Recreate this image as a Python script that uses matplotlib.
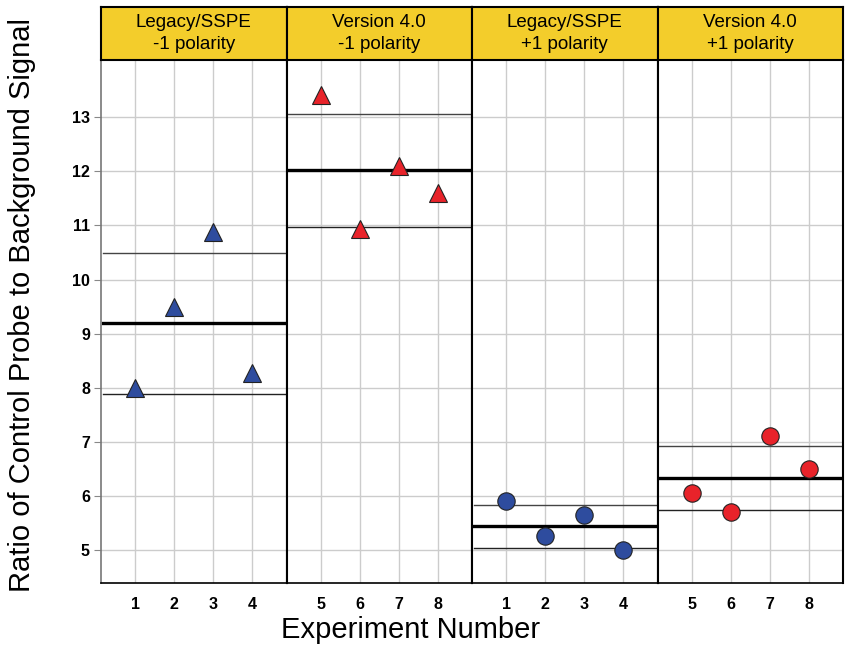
import matplotlib
matplotlib.use("Agg")
import matplotlib.pyplot as plt

plt.rcParams['font.family'] = ['Liberation Sans', 'DejaVu Sans']

# panel titles
titles = ["Legacy/SSPE\n-1 polarity", "Version 4.0\n-1 polarity",
          "Legacy/SSPE\n+1 polarity", "Version 4.0\n+1 polarity"]
# experiment numbers per panel
experiments = [[1, 2, 3, 4], [5, 6, 7, 8], [1, 2, 3, 4], [5, 6, 7, 8]]
# ratio values per panel
ratios = [[8.0, 9.5, 10.88, 8.28],
          [13.42, 10.93, 12.1, 11.6],
          [5.9, 5.25, 5.65, 5.0],
          [6.05, 5.7, 7.1, 6.5]]
# mean and upper / lower bounds per panel
means = [9.2, 12.03, 5.44, 6.33]
uppers = [10.5, 13.07, 5.84, 6.93]
lowers = [7.89, 10.98, 5.04, 5.74]

colors = ["#2E4C9E", "#E8232A", "#2E4C9E", "#E8232A"]
markers = ["^", "^", "o", "o"]
msizes = [13, 13, 12.5, 12.5]

W, H = 846, 647
fig = plt.figure(figsize=(W / 100, H / 100), dpi=100)

left, right = 101 / W, 843 / W
bottom, top = 1 - 583 / H, 1 - 60 / H
head_top = 1 - 7 / H
pw = (right - left) / 4

for i in range(4):
    ax = fig.add_axes([left + i * pw, bottom, pw, top - bottom])
    pos = list(range(1, 5))
    ax.set_xlim(0.13, 4.87)
    ax.set_ylim(4.39, 14.06)
    ax.set_xticks(pos)
    ax.set_xticklabels([str(e) for e in experiments[i]], fontweight="bold", fontsize=11.5)
    ax.set_yticks(range(5, 14))
    ax.grid(True, color="#cccccc", linewidth=1.0, zorder=0)
    ax.set_axisbelow(True)
    ax.tick_params(axis="x", length=0, pad=10)
    if i == 0:
        ax.set_yticklabels([str(v) for v in range(5, 14)], fontweight="bold", fontsize=11.5)
        ax.tick_params(axis="y", length=5, color="#888888", pad=3)
        ax.spines["left"].set_color("#777777")
        ax.spines["left"].set_linewidth(1.2)
    else:
        ax.tick_params(axis="y", length=0, labelleft=False)
        ax.spines["left"].set_linewidth(1.5)
    ax.spines["right"].set_linewidth(1.5)
    ax.spines["bottom"].set_linewidth(1.2)
    ax.spines["top"].set_visible(False)

    ax.axhline(means[i], xmin=0.01, xmax=0.99, color="black", linewidth=2.4, zorder=2)
    ax.axhline(uppers[i], xmin=0.01, xmax=0.99, color="#444444", linewidth=1.0, zorder=2)
    ax.axhline(lowers[i], xmin=0.01, xmax=0.99, color="#222222", linewidth=1.0, zorder=2)
    ax.plot(pos, ratios[i], linestyle="none", marker=markers[i], markersize=msizes[i],
            markerfacecolor=colors[i], markeredgecolor="#222222", markeredgewidth=0.8, zorder=3)

    hax = fig.add_axes([left + i * pw, top, pw, head_top - top])
    hax.set_xticks([])
    hax.set_yticks([])
    hax.set_facecolor("#F3CD2B")
    for s in hax.spines.values():
        s.set_linewidth(1.5)
    hax.text(0.5, 0.5, titles[i], ha="center", va="center", fontsize=13.5, linespacing=1.4,
             transform=hax.transAxes)

fig.text(0.485, 0.026, "Experiment Number", ha="center", va="center", fontsize=21)
fig.text(0.026, 0.528, "Ratio of Control Probe to Background Signal", ha="center", va="center",
         rotation=90, fontsize=21)

fig.savefig("out.png", dpi=100)
